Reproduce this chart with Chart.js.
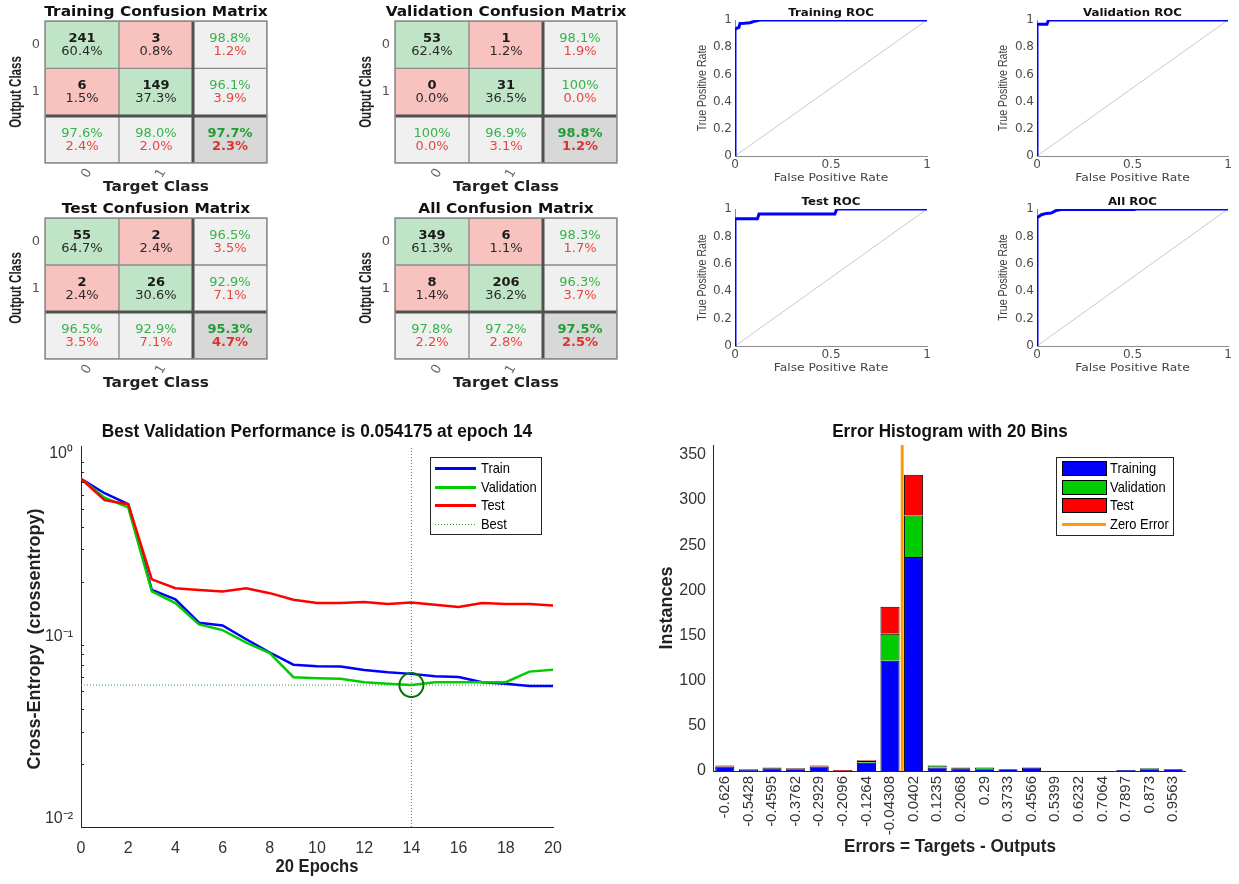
<!DOCTYPE html>
<html><head><meta charset="utf-8"><title>Neural network classification results</title>
<script src="https://cdn.jsdelivr.net/npm/chart.js@4.4.1/dist/chart.umd.min.js"></script>
<style>html,body{margin:0;padding:0;background:#fff}body{position:relative;width:1239px;height:884px;overflow:hidden}canvas{position:absolute;display:block}</style>
</head><body>
<script>
// ---------------- data ----------------
const cmClasses = ['0', '1'];

const trainCounts = [241, 3, 6, 149];
const trainCellPct = ['60.4%', '0.8%', '1.5%', '37.3%'];
const trainRowAcc = ['98.8%', '96.1%'];
const trainRowErr = ['1.2%', '3.9%'];
const trainColAcc = ['97.6%', '98.0%'];
const trainColErr = ['2.4%', '2.0%'];
const trainTotal = ['97.7%', '2.3%'];

const valCounts = [53, 1, 0, 31];
const valCellPct = ['62.4%', '1.2%', '0.0%', '36.5%'];
const valRowAcc = ['98.1%', '100%'];
const valRowErr = ['1.9%', '0.0%'];
const valColAcc = ['100%', '96.9%'];
const valColErr = ['0.0%', '3.1%'];
const valTotal = ['98.8%', '1.2%'];

const testCounts = [55, 2, 2, 26];
const testCellPct = ['64.7%', '2.4%', '2.4%', '30.6%'];
const testRowAcc = ['96.5%', '92.9%'];
const testRowErr = ['3.5%', '7.1%'];
const testColAcc = ['96.5%', '92.9%'];
const testColErr = ['3.5%', '7.1%'];
const testTotal = ['95.3%', '4.7%'];

const allCounts = [349, 6, 8, 206];
const allCellPct = ['61.3%', '1.1%', '1.4%', '36.2%'];
const allRowAcc = ['98.3%', '96.3%'];
const allRowErr = ['1.7%', '3.7%'];
const allColAcc = ['97.8%', '97.2%'];
const allColErr = ['2.2%', '2.8%'];
const allTotal = ['97.5%', '2.5%'];

const rocDiag = [0, 1];
const rocTrainFpr = [0, 0, 0.01, 0.02, 0.026, 0.05, 0.078, 0.1, 0.113, 0.13, 1];
const rocTrainTpr = [0, 0.931, 0.94, 0.945, 0.975, 0.976, 0.98, 0.99, 0.995, 1, 1];
const rocValFpr = [0, 0, 0.052, 0.06, 1];
const rocValTpr = [0, 0.968, 0.968, 1, 1];
const rocTestFpr = [0, 0, 0.117, 0.125, 0.52, 0.53, 1];
const rocTestTpr = [0, 0.929, 0.929, 0.964, 0.964, 1, 1];
const rocAllFpr = [0, 0, 0.01, 0.023, 0.049, 0.075, 0.098, 0.127, 0.51, 0.52, 1];
const rocAllTpr = [0, 0.934, 0.946, 0.958, 0.968, 0.97, 0.988, 0.997, 0.997, 1, 1];

const epochs = [0, 1, 2, 3, 4, 5, 6, 7, 8, 9, 10, 11, 12, 13, 14, 15, 16, 17, 18, 19, 20];
const perfTrain = [0.732, 0.61, 0.531, 0.180, 0.160, 0.119, 0.115, 0.0966, 0.0817, 0.0701, 0.0687, 0.0685, 0.0656, 0.0637, 0.0624, 0.0606, 0.0600, 0.0562, 0.0551, 0.0535, 0.0535];
const perfVal = [0.732, 0.577, 0.510, 0.1765, 0.1526, 0.1164, 0.1084, 0.0926, 0.0811, 0.0598, 0.0591, 0.0587, 0.0562, 0.0551, 0.054175, 0.0562, 0.0562, 0.0562, 0.0562, 0.0642, 0.0658];
const perfTest = [0.732, 0.559, 0.531, 0.2058, 0.1839, 0.180, 0.1765, 0.1839, 0.1728, 0.159, 0.1526, 0.1526, 0.1545, 0.1507, 0.1538, 0.1494, 0.145, 0.1526, 0.1507, 0.1507, 0.148];
const bestEpoch = 14;
const bestPerf = 0.054175;
const perfExp = [0, -1, -2];

const binCenters = ['-0.626', '-0.5428', '-0.4595', '-0.3762', '-0.2929', '-0.2096', '-0.1264', '-0.04308', '0.0402', '0.1235', '0.2068', '0.29', '0.3733', '0.4566', '0.5399', '0.6232', '0.7064', '0.7897', '0.873', '0.9563'];
const histTrain = [5, 1, 3, 2, 5, 0, 9, 122, 237, 4, 3, 2, 2, 4, 0, 0, 0, 1, 2, 2];
const histVal   = [0, 0, 0, 0, 0, 0, 2, 30, 46, 2, 1, 2, 0, 0, 0, 0, 0, 0, 1, 0];
const histTest  = [1, 1, 1, 1, 1, 1, 1, 30, 45, 0, 0, 0, 0, 0, 0, 0, 0, 0, 0, 0];
const zeroError = 0;
const histYTicks = [0, 50, 100, 150, 200, 250, 300, 350];

// ---------------- setup ----------------
const F_WIDE = '"DejaVu Sans", Verdana, sans-serif';
const F_NARROW = '"Liberation Sans Narrow", "Arial Narrow", "Liberation Sans", Arial, sans-serif';
Chart.defaults.font.family = F_NARROW;
Chart.defaults.animation = false;
Chart.defaults.responsive = false;
Chart.defaults.plugins.legend.display = false;
Chart.defaults.plugins.tooltip.enabled = false;
const GREEN_T = '#35b34a', RED_T = '#e8463d';

function makeCanvas(pos) {
  const c = document.createElement('canvas');
  c.width = pos.w; c.height = pos.h;
  c.style.left = pos.l + 'px'; c.style.top = pos.t + 'px';
  c.style.width = pos.w + 'px'; c.style.height = pos.h + 'px';
  document.body.appendChild(c);
  return c;
}
function pad(pos, area, yW, xH) {
  return { left: area.l - pos.l - yW, right: pos.l + pos.w - area.r, top: area.t - pos.t, bottom: pos.t + pos.h - area.b - xH };
}
function T(pos, text, x, y, font, color, rot, sx) {
  return { text, x: x - pos.l, y: y - pos.t, font, color: color || '#000', rot: rot || 0, sx: sx || 1 };
}

const textPlugin = {
  id: 'texts',
  afterDraw(chart, args, o) {
    if (!o || !o.items) return;
    const ctx = chart.ctx;
    for (const t of o.items) {
      ctx.save();
      ctx.translate(t.x, t.y);
      if (t.rot) ctx.rotate(t.rot);
      if (t.sx !== 1) ctx.scale(t.sx, 1);
      ctx.font = t.font; ctx.fillStyle = t.color;
      ctx.textAlign = 'center'; ctx.textBaseline = 'middle';
      ctx.fillText(t.text, 0, 0);
      ctx.restore();
    }
  }
};
const inTicks = {
  id: 'inTicks',
  afterDatasetsDraw(chart, args, o) {
    if (!o || !o.axes) return;
    const ctx = chart.ctx, a = chart.chartArea;
    ctx.save(); ctx.strokeStyle = o.color || '#333'; ctx.lineWidth = 1;
    for (const ax of o.axes) {
      const s = chart.scales[ax.id];
      const vals = ax.values ? Array.from(ax.values) : s.ticks.map(t => t.value);
      for (const v of vals) {
        const p = Math.round(s.getPixelForValue(v)) + 0.5;
        ctx.beginPath();
        if (s.isHorizontal()) { ctx.moveTo(p, a.bottom); ctx.lineTo(p, a.bottom - ax.len); }
        else { ctx.moveTo(a.left, p); ctx.lineTo(a.left + ax.len, p); }
        ctx.stroke();
      }
    }
    ctx.restore();
  }
};
const boxLegend = {
  id: 'boxLegend',
  afterDraw(chart, args, o) {
    if (!o || !o.items) return;
    const ctx = chart.ctx;
    ctx.save();
    ctx.fillStyle = '#fff'; ctx.fillRect(o.x, o.y, o.w, o.h);
    ctx.strokeStyle = '#262626'; ctx.lineWidth = 1; ctx.strokeRect(o.x + 0.5, o.y + 0.5, o.w, o.h);
    o.items.forEach((it, i) => {
      const y = Math.round(o.y + o.row0 + i * o.dy);
      if (it.kind === 'patch') {
        ctx.fillStyle = it.color; ctx.fillRect(o.x + o.sx0, y - 7, o.sx1 - o.sx0, 14);
        ctx.strokeStyle = '#000'; ctx.lineWidth = 1; ctx.setLineDash([]);
        ctx.strokeRect(o.x + o.sx0 + 0.5, y - 7 + 0.5, o.sx1 - o.sx0, 14);
      } else {
        ctx.strokeStyle = it.color; ctx.lineWidth = it.width;
        ctx.setLineDash(it.dash ? Array.from(it.dash) : []);
        ctx.beginPath(); ctx.moveTo(o.x + o.sx0, y + 0.5); ctx.lineTo(o.x + o.sx1, y + 0.5); ctx.stroke();
        ctx.setLineDash([]);
      }
      ctx.save();
      ctx.translate(o.x + o.tx, y + 1);
      ctx.scale(o.squeeze || 1, 1);
      ctx.fillStyle = '#000'; ctx.font = o.font; ctx.textAlign = 'left'; ctx.textBaseline = 'middle';
      ctx.fillText(it.label, 0, 0);
      ctx.restore();
    });
    ctx.restore();
  }
};
Chart.register(textPlugin, inTicks, boxLegend);

// ---------------- confusion matrices ----------------
function cmChart(pos, area, title, m, titleY, outX, outY, tgtY) {
  const cv = makeCanvas(pos);
  const G = '#bfe5c6', R = '#f8c3be', Gy = '#f0f0f0', D = '#d8d8d8';
  const colors = [[G, R, Gy], [R, G, Gy], [Gy, Gy, D]];
  const idx = [0, 1, 2];
  const datasets = idx.map(r => ({
    data: idx.map(() => [r, r + 1]),
    backgroundColor: colors[r], borderColor: '#8c8c8c', borderWidth: 1, borderSkipped: false,
    barPercentage: 1, categoryPercentage: 1, grouped: false
  }));
  const cx = (area.l + area.r) / 2;
  const cellPlugin = {
    id: 'cmCells',
    afterDatasetsDraw(chart) {
      const { ctx, scales: { x, y }, chartArea: a } = chart;
      const px = c => x.getPixelForValue(c);
      const py = r => y.getPixelForValue(r + 0.5);
      ctx.save(); ctx.textAlign = 'center'; ctx.textBaseline = 'middle';
      const put = (t, X, Y, f, col) => { ctx.font = f; ctx.fillStyle = col; ctx.fillText(t, X, Y); };
      const fb = 'bold 13px ' + F_WIDE, fn = '13px ' + F_WIDE;
      for (let r = 0; r < 2; r++) for (let c = 0; c < 2; c++) {
        put(String(m.counts[r * 2 + c]), px(c), py(r) - 6, fb, '#1a1a1a');
        put(m.pct[r * 2 + c], px(c), py(r) + 7, fn, '#2a2a2a');
      }
      for (let r = 0; r < 2; r++) {
        put(m.rowAcc[r], px(2), py(r) - 6, fn, GREEN_T);
        put(m.rowErr[r], px(2), py(r) + 7, fn, RED_T);
      }
      for (let c = 0; c < 2; c++) {
        put(m.colAcc[c], px(c), py(2) - 6, fn, GREEN_T);
        put(m.colErr[c], px(c), py(2) + 7, fn, RED_T);
      }
      put(m.total[0], px(2), py(2) - 6, fb, '#1f9e33');
      put(m.total[1], px(2), py(2) + 7, fb, '#dd3328');
      const xs = Math.round((px(1) + px(2)) / 2), ys = Math.round(y.getPixelForValue(2));
      ctx.strokeStyle = '#505050'; ctx.lineWidth = 3;
      ctx.beginPath(); ctx.moveTo(xs, a.top); ctx.lineTo(xs, a.bottom); ctx.stroke();
      ctx.beginPath(); ctx.moveTo(a.left, ys); ctx.lineTo(a.right, ys); ctx.stroke();
      ctx.strokeStyle = '#8c8c8c'; ctx.lineWidth = 1.5;
      ctx.strokeRect(a.left, a.top, a.right - a.left, a.bottom - a.top);
      ctx.restore();
    }
  };
  new Chart(cv, {
    type: 'bar',
    data: { labels: [...cmClasses, ''], datasets },
    options: {
      devicePixelRatio: 1,
      layout: { padding: pad(pos, area, 20, 30) },
      scales: {
        x: { type: 'category', grid: { display: false, drawTicks: false }, border: { display: false },
             ticks: { font: { family: F_WIDE, size: 13 }, color: '#666', minRotation: 60, maxRotation: 60, padding: 3, labelOffset: 7 },
             afterFit: s => { s.height = 30; } },
        y: { type: 'linear', min: 0, max: 3, reverse: true, grid: { display: false, drawTicks: false }, border: { display: false },
             afterBuildTicks: s => { s.ticks = [{ value: 0.5 }, { value: 1.5 }]; },
             ticks: { font: { family: F_WIDE, size: 13 }, color: '#555', padding: 5, callback: v => cmClasses[Math.floor(v)] },
             afterFit: s => { s.width = 20; } }
      },
      plugins: {
        texts: { items: [
          T(pos, title, cx, titleY, 'bold 14px ' + F_WIDE, '#111', 0, 1.1),
          T(pos, 'Output Class', outX, outY, 'bold 16px ' + F_NARROW, '#222', -Math.PI / 2, 0.72),
          T(pos, 'Target Class', cx, tgtY, 'bold 14px ' + F_WIDE, '#222', 0, 1.1)
        ] }
      }
    },
    plugins: [cellPlugin]
  });
}
cmChart({ l: 0, t: 0, w: 320, h: 195 }, { l: 45, r: 267, t: 21, b: 163 }, 'Training Confusion Matrix',
  { counts: trainCounts, pct: trainCellPct, rowAcc: trainRowAcc, rowErr: trainRowErr, colAcc: trainColAcc, colErr: trainColErr, total: trainTotal }, 12, 17, 92, 187);
cmChart({ l: 320, t: 0, w: 320, h: 195 }, { l: 395, r: 617, t: 21, b: 163 }, 'Validation Confusion Matrix',
  { counts: valCounts, pct: valCellPct, rowAcc: valRowAcc, rowErr: valRowErr, colAcc: valColAcc, colErr: valColErr, total: valTotal }, 12, 367, 92, 187);
cmChart({ l: 0, t: 195, w: 320, h: 195 }, { l: 45, r: 267, t: 218, b: 359 }, 'Test Confusion Matrix',
  { counts: testCounts, pct: testCellPct, rowAcc: testRowAcc, rowErr: testRowErr, colAcc: testColAcc, colErr: testColErr, total: testTotal }, 209, 17, 288, 383);
cmChart({ l: 320, t: 195, w: 320, h: 195 }, { l: 395, r: 617, t: 218, b: 359 }, 'All Confusion Matrix',
  { counts: allCounts, pct: allCellPct, rowAcc: allRowAcc, rowErr: allRowErr, colAcc: allColAcc, colErr: allColErr, total: allTotal }, 209, 367, 288, 383);

// ---------------- ROC ----------------
function rocChart(pos, area, title, fpr, tpr, titleY, fprY, tprX) {
  const cv = makeCanvas(pos);
  const cx = (area.l + area.r) / 2, cy = (area.t + area.b) / 2;
  const fmt = v => String(Math.round(v * 10) / 10);
  new Chart(cv, {
    type: 'scatter',
    data: { datasets: [
      { data: fpr.map((f, i) => ({ x: f, y: tpr[i] })), showLine: true, borderColor: '#0000ff', borderWidth: 3, pointRadius: 0, order: 0 },
      { data: rocDiag.map(v => ({ x: v, y: v })), showLine: true, borderColor: '#c8c8c8', borderWidth: 1, pointRadius: 0, order: 1 }
    ] },
    options: {
      devicePixelRatio: 1,
      layout: { padding: pad(pos, area, 30, 20) },
      scales: {
        x: { type: 'linear', min: 0, max: 1, grid: { display: false, drawTicks: false }, border: { color: '#8a8a8a' },
             ticks: { stepSize: 0.5, font: { family: F_WIDE, size: 12 }, color: '#4d4d4d', padding: 2, callback: fmt },
             afterFit: s => { s.height = 20; } },
        y: { type: 'linear', min: 0, max: 1, grid: { display: false, drawTicks: false }, border: { color: '#8a8a8a' },
             ticks: { stepSize: 0.2, font: { family: F_WIDE, size: 12 }, color: '#4d4d4d', padding: 3, callback: fmt },
             afterFit: s => { s.width = 30; } }
      },
      plugins: {
        inTicks: { color: '#8a8a8a', axes: [{ id: 'x', len: 3 }, { id: 'y', len: 3 }] },
        texts: { items: [
          T(pos, title, cx, titleY, 'bold 11px ' + F_WIDE, '#111', 0, 1.07),
          T(pos, 'False Positive Rate', cx, fprY, '11px ' + F_WIDE, '#444', 0, 1.12),
          T(pos, 'True Positive Rate', tprX, cy, '12px ' + F_NARROW, '#444', -Math.PI / 2, 0.88)
        ] }
      }
    }
  });
}
rocChart({ l: 680, t: 0, w: 300, h: 195 }, { l: 735, r: 927, t: 20, b: 156 }, 'Training ROC', rocTrainFpr, rocTrainTpr, 13, 178, 703);
rocChart({ l: 980, t: 0, w: 259, h: 195 }, { l: 1037, r: 1228, t: 20, b: 156 }, 'Validation ROC', rocValFpr, rocValTpr, 13, 178, 1004);
rocChart({ l: 680, t: 195, w: 300, h: 195 }, { l: 735, r: 927, t: 209, b: 346 }, 'Test ROC', rocTestFpr, rocTestTpr, 202, 368, 703);
rocChart({ l: 980, t: 195, w: 259, h: 195 }, { l: 1037, r: 1228, t: 209, b: 346 }, 'All ROC', rocAllFpr, rocAllTpr, 202, 368, 1004);

// ---------------- performance ----------------
(function () {
  const pos = { l: 0, t: 415, w: 640, h: 469 }, area = { l: 81, r: 553, t: 446, b: 827 };
  const cv = makeCanvas(pos);
  const yMin = Math.pow(10, -2.044), yMax = Math.pow(10, 0.044);
  const sup = { '0': '\u2070', '-1': '\u207B\u00B9', '-2': '\u207B\u00B2' };
  const minor = [];
  [0.01, 0.1].forEach(d => [2, 3, 4, 5, 6, 7, 8, 9].forEach(k => minor.push(d * k)));
  const pts = arr => epochs.map((e, i) => ({ x: e, y: arr[i] }));
  const dsTrain = { label: 'Train', data: pts(perfTrain), borderColor: '#0000ff', borderWidth: 2.5, pointRadius: 0, order: 3 };
  const dsVal = { label: 'Validation', data: pts(perfVal), borderColor: '#00cc00', borderWidth: 2.5, pointRadius: 0, order: 2 };
  const dsTest = { label: 'Test', data: pts(perfTest), borderColor: '#ff0000', borderWidth: 2.5, pointRadius: 0, order: 1 };
  const dsBest = { label: 'Best', data: [{ x: bestEpoch, y: yMin }, { x: bestEpoch, y: yMax }], borderColor: '#2ca02c', borderWidth: 1, borderDash: [1, 2], pointRadius: 0, order: 10 };
  const dsBestH = { label: 'BestLevel', data: [{ x: epochs[0], y: bestPerf }, { x: epochs[epochs.length - 1], y: bestPerf }], borderColor: '#2ca02c', borderWidth: 1, borderDash: [1, 2], pointRadius: 0, order: 11 };
  const dsCircle = { label: 'BestPoint', data: [{ x: bestEpoch, y: bestPerf }], showLine: false, pointRadius: 12, pointBorderWidth: 2, pointBorderColor: '#007400', pointBackgroundColor: 'rgba(0,0,0,0)', order: 0 };
  new Chart(cv, {
    type: 'line',
    data: { datasets: [dsTrain, dsVal, dsTest, dsBest, dsBestH, dsCircle] },
    options: {
      devicePixelRatio: 1,
      layout: { padding: pad(pos, area, 50, 30) },
      elements: { line: { tension: 0 } },
      scales: {
        x: { type: 'linear', min: 0, max: 20, grid: { display: false, drawTicks: false }, border: { color: '#262626' },
             ticks: { stepSize: 2, font: { family: F_NARROW, size: 16 }, color: '#333', padding: 12 },
             afterFit: s => { s.height = 30; } },
        y: { type: 'logarithmic', min: yMin, max: yMax, grid: { display: false, drawTicks: false }, border: { color: '#262626' },
             afterBuildTicks: s => { s.ticks = perfExp.map(e => ({ value: Math.pow(10, e), major: true })); },
             ticks: { font: { family: F_NARROW, size: 16 }, color: '#333', padding: 8,
                      callback: v => '10' + sup[String(Math.round(Math.log10(v)))] },
             afterFit: s => { s.width = 50; } }
      },
      plugins: {
        inTicks: { color: '#262626', axes: [{ id: 'x', len: 5 }, { id: 'y', len: 5 }, { id: 'y', len: 3, values: minor }] },
        boxLegend: { x: 430, y: 42, w: 111, h: 77, row0: 11, dy: 18.7, sx0: 5, sx1: 46, tx: 51, font: '15px ' + F_NARROW, squeeze: 0.86,
          items: [dsTrain, dsVal, dsTest, dsBest].map(d => ({ label: d.label, color: d.borderColor, width: d.borderWidth === 1 ? 1.2 : 3, dash: d.borderDash || null, kind: 'line' })) },
        texts: { items: [
          T(pos, 'Best Validation Performance is ' + bestPerf + ' at epoch ' + bestEpoch, 317, 432, 'bold 18px ' + F_NARROW, '#111', 0, 0.96),
          T(pos, epochs[epochs.length - 1] + ' Epochs', 317, 867, 'bold 18px ' + F_NARROW, '#222', 0, 0.92),
          T(pos, 'Cross-Entropy  (crossentropy)', 35, 639, 'bold 18px ' + F_NARROW, '#222', -Math.PI / 2)
        ] }
      }
    }
  });
})();

// ---------------- error histogram ----------------
(function () {
  const pos = { l: 640, t: 415, w: 599, h: 469 }, area = { l: 713, r: 1185, t: 445, b: 771 };
  const cv = makeCanvas(pos);
  const histYMax = 361;
  const first = Number(binCenters[0]), last = Number(binCenters[binCenters.length - 1]);
  const binW = (last - first) / (binCenters.length - 1);
  const bar = (label, data, color) => ({ type: 'bar', label, data, backgroundColor: color, borderColor: '#000', borderWidth: 1,
    xAxisID: 'x', yAxisID: 'y', barPercentage: 0.81, categoryPercentage: 1, grouped: false, order: 2 });
  const dsTr = bar('Training', histTrain, '#0000ff');
  const dsVa = bar('Validation', histVal, '#00cc00');
  const dsTe = bar('Test', histTest, '#ff0000');
  const dsZero = { type: 'line', label: 'Zero Error', data: [{ x: zeroError, y: 0 }, { x: zeroError, y: histYMax }], xAxisID: 'xz', yAxisID: 'yz',
    borderColor: '#ff9a00', borderWidth: 3, pointRadius: 0, order: 0 };
  new Chart(cv, {
    type: 'bar',
    data: { labels: binCenters, datasets: [dsTr, dsVa, dsTe, dsZero] },
    options: {
      devicePixelRatio: 1,
      layout: { padding: pad(pos, area, 55, 90) },
      scales: {
        x: { type: 'category', stacked: true, offset: true, grid: { display: false, drawTicks: false }, border: { color: '#262626' },
             ticks: { autoSkip: false, minRotation: 90, maxRotation: 90, font: { family: F_NARROW, size: 15 }, color: '#333', padding: 5 },
             afterFit: s => { s.height = 90; } },
        xz: { type: 'linear', display: false, offset: false, grid: { offset: false }, min: first - binW / 2, max: last + binW / 2 },
        yz: { type: 'linear', display: false, offset: false, min: 0, max: histYMax },
        y: { type: 'linear', stacked: true, min: 0, max: histYMax, grid: { display: false, drawTicks: false }, border: { color: '#262626' },
             afterBuildTicks: s => { s.ticks = histYTicks.map(v => ({ value: v })); },
             ticks: { font: { family: F_NARROW, size: 16 }, color: '#333', padding: 7 },
             afterFit: s => { s.width = 55; } }
      },
      plugins: {
        inTicks: { color: '#262626', axes: [{ id: 'y', len: 5 }] },
        boxLegend: { x: 416, y: 42, w: 117, h: 78, row0: 11, dy: 18.5, sx0: 6, sx1: 50, tx: 54, font: '15px ' + F_NARROW, squeeze: 0.86,
          items: [dsTr, dsVa, dsTe].map(d => ({ label: d.label, color: d.backgroundColor, kind: 'patch' }))
            .concat([{ label: dsZero.label, color: dsZero.borderColor, width: 3, kind: 'line' }]) },
        texts: { items: [
          T(pos, 'Error Histogram with ' + binCenters.length + ' Bins', 950, 432, 'bold 18px ' + F_NARROW, '#111', 0, 0.95),
          T(pos, 'Errors = Targets - Outputs', 950, 847, 'bold 18px ' + F_NARROW, '#222', 0, 0.95),
          T(pos, 'Instances', 667, 608, 'bold 18px ' + F_NARROW, '#222', -Math.PI / 2)
        ] }
      }
    }
  });
})();
</script>
</body></html>
